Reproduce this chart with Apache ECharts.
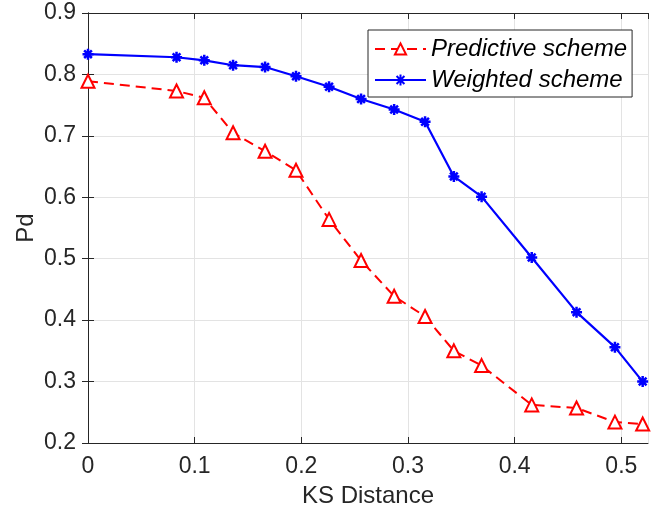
<!DOCTYPE html>
<html>
<head>
<meta charset="utf-8">
<script src="https://cdn.jsdelivr.net/npm/echarts@6/dist/echarts.min.js"></script>
<style>
  html, body { margin: 0; padding: 0; background: #fff; }
  #chart { width: 659px; height: 514px; }
</style>
</head>
<body>
<div id="chart"></div>
<script>
// KS distance values shared by both schemes
const ksDistance = [0, 0.083, 0.109, 0.136, 0.166, 0.195, 0.226, 0.256, 0.287, 0.316, 0.343, 0.369, 0.416, 0.458, 0.494, 0.520];
// Detection probability for each scheme
const predictivePd = [0.789, 0.773, 0.762, 0.705, 0.675, 0.644, 0.564, 0.497, 0.439, 0.406, 0.350, 0.326, 0.262, 0.257, 0.234, 0.231];
const weightedPd = [0.833, 0.828, 0.823, 0.815, 0.812, 0.797, 0.780, 0.760, 0.743, 0.723, 0.634, 0.601, 0.502, 0.413, 0.356, 0.300];
const seriesNames = ['Predictive scheme', 'Weighted scheme'];

const axisColor = '#262626';
const gridColor = '#e3e3e3';
const font = 'Liberation Sans, Arial, Helvetica, sans-serif';

// eight-armed asterisk marker
const asterisk = 'path://M0,5L10,5M5,0L5,10M1.5,1.5L8.5,8.5M8.5,1.5L1.5,8.5';

const pairs = (ys) => ksDistance.map((x, i) => [x, ys[i]]);

const boxAxis = {
  axisLine: { show: true, lineStyle: { color: axisColor, width: 1 } },
  axisTick: { show: true, inside: true, length: 6, lineStyle: { color: axisColor } },
  axisLabel: { show: false },
  splitLine: { show: false }
};

const chart = echarts.init(document.getElementById('chart'), null, { renderer: 'canvas' });
chart.setOption({
  animation: false,
  backgroundColor: '#fff',
  grid: { left: 88, right: 11, top: 13, bottom: 71, containLabel: false },
  legend: {
    orient: 'vertical',
    left: 368,
    top: 30,
    data: seriesNames,
    itemWidth: 51,
    itemHeight: 14,
    itemGap: 7,
    padding: [7, 5, 5, 6],
    borderColor: axisColor,
    borderWidth: 1,
    backgroundColor: '#fff',
    textStyle: { fontFamily: font, fontSize: 24, fontStyle: 'italic', color: '#000' }
  },
  xAxis: [
    {
      type: 'value', min: 0, max: 0.525, interval: 0.1,
      name: 'KS Distance', nameLocation: 'middle', nameGap: 41, nameMoveOverlap: false,
      nameTextStyle: { fontFamily: font, fontSize: 24, color: axisColor },
      axisLine: { show: true, onZero: false, lineStyle: { color: axisColor, width: 1 } },
      axisTick: { show: true, inside: true, length: 6, lineStyle: { color: axisColor } },
      axisLabel: { fontFamily: font, fontSize: 23, color: axisColor, margin: 12, showMaxLabel: false },
      splitLine: { show: true, lineStyle: { color: gridColor, width: 1 } }
    },
    Object.assign({ type: 'value', position: 'top', min: 0, max: 0.525, interval: 0.1 }, boxAxis)
  ],
  yAxis: [
    {
      type: 'value', min: 0.2, max: 0.9, interval: 0.1,
      name: 'Pd', nameLocation: 'middle', nameGap: 50, nameRotate: 90, nameMoveOverlap: false,
      nameTextStyle: { fontFamily: font, fontSize: 24, color: axisColor },
      axisLine: { show: true, onZero: false, lineStyle: { color: axisColor, width: 1 } },
      axisTick: { show: true, inside: true, length: 6, lineStyle: { color: axisColor } },
      axisLabel: { fontFamily: font, fontSize: 23, color: axisColor, margin: 12,
        formatter: (v) => v.toFixed(1) },
      splitLine: { show: true, lineStyle: { color: gridColor, width: 1 } }
    },
    Object.assign({ type: 'value', position: 'right', min: 0.2, max: 0.9, interval: 0.1 }, boxAxis)
  ],
  series: [
    {
      name: seriesNames[0],
      type: 'line',
      data: pairs(predictivePd),
      symbol: 'emptyTriangle',
      symbolSize: 13,
      lineStyle: { color: '#ff0000', width: 2, type: [10, 6] },
      itemStyle: { color: '#ff0000', borderColor: '#ff0000', borderWidth: 2 },
      z: 3
    },
    {
      name: seriesNames[1],
      type: 'line',
      data: pairs(weightedPd),
      symbol: asterisk,
      symbolSize: 11,
      lineStyle: { color: '#0000ff', width: 2.2 },
      itemStyle: { color: '#0000ff', borderColor: '#0000ff', borderWidth: 2.5 },
      z: 4
    }
  ]
});
</script>
</body>
</html>
